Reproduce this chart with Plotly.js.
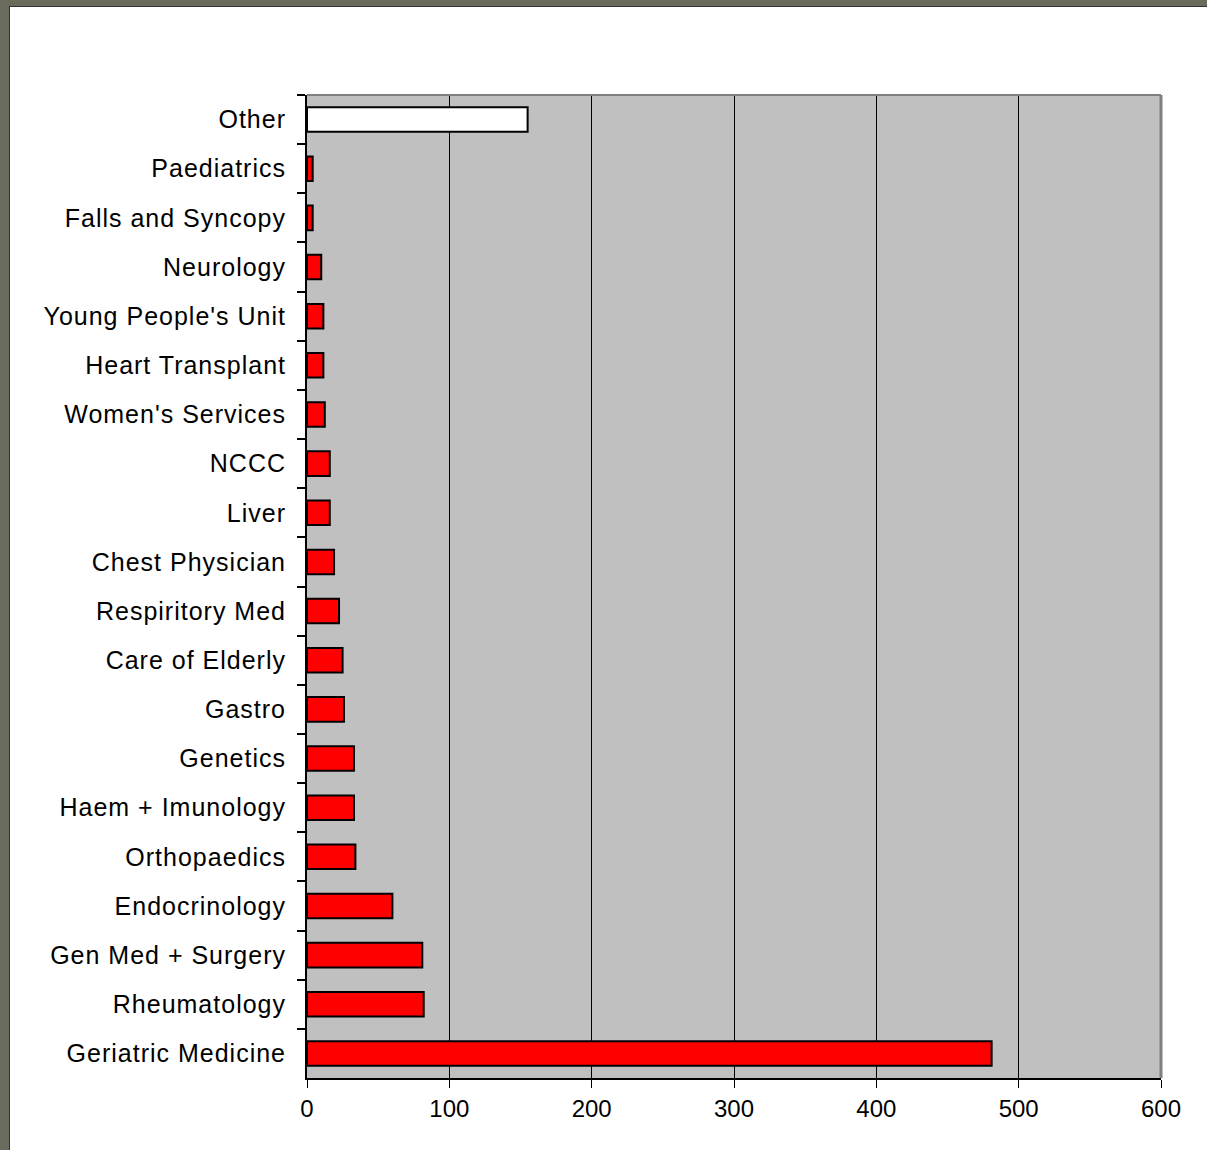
<!DOCTYPE html>
<html>
<head>
<meta charset="utf-8">
<script src="https://cdn.plot.ly/plotly-3.0.1.min.js"></script>
<style>
html,body{margin:0;padding:0;background:#6b6b5d;width:1207px;height:1150px;overflow:hidden;}
#chart{position:absolute;left:9px;top:6px;width:1198px;height:1144px;background:#fff;border-left:1px solid #333;border-top:1px solid #333;}
.yaxislayer-above text{letter-spacing:1px;}
</style>
</head>
<body>
<div id="chart"></div>
<script>
const categories = ["Other","Paediatrics","Falls and Syncopy","Neurology","Young People's Unit","Heart Transplant","Women's Services","NCCC","Liver","Chest Physician","Respiritory Med","Care of Elderly","Gastro","Genetics","Haem + Imunology","Orthopaedics","Endocrinology","Gen Med + Surgery","Rheumatology","Geriatric Medicine"];
const values = [155,4,4,10,11.5,11.5,12.5,16,16,19,22.5,25,26,33,33,34,60,81,82,481];
const barColors = categories.map(c => c === "Other" ? "#ffffff" : "#ff0000");
const xTicks = [0,100,200,300,400,500,600];

const trace = {
  type: "bar",
  orientation: "h",
  y: categories,
  x: values,
  marker: {color: barColors, line: {color: "#000", width: 2}},
  width: 0.5,
  hoverinfo: "x+y"
};

const layout = {
  width: 1198, height: 1144,
  margin: {l: 297, r: 47, t: 88, b: 73},
  paper_bgcolor: "#ffffff",
  plot_bgcolor: "#c0c0c0",
  showlegend: false,
  font: {family: "Liberation Sans, Arial, sans-serif", size: 24, color: "#000"},
  xaxis: {
    range: [0, 600],
    tickvals: xTicks,
    ticks: "outside", ticklen: 8, tickwidth: 1, tickcolor: "#000",
    showgrid: true, gridcolor: "#000", gridwidth: 1,
    showline: true, linecolor: "#000", linewidth: 2,
    zeroline: false,
    tickfont: {size: 24}
  },
  yaxis: {
    type: "category",
    autorange: "reversed",
    ticks: "outside", tickson: "boundaries", ticklen: 8, tickwidth: 2, tickcolor: "#000",
    showline: true, linecolor: "#000", linewidth: 2,
    showgrid: false,
    ticklabelstandoff: 14,
    tickfont: {size: 25}
  },
  shapes: [
    {type: "line", xref: "paper", yref: "paper", x0: 1, x1: 1, y0: 0, y1: 1, line: {color: "#808080", width: 3}},
    {type: "line", xref: "paper", yref: "paper", x0: 0, x1: 1, y0: 1, y1: 1, line: {color: "#808080", width: 2}}
  ]
};

Plotly.newPlot("chart", [trace], layout, {displayModeBar: false, staticPlot: true});
</script>
</body>
</html>
